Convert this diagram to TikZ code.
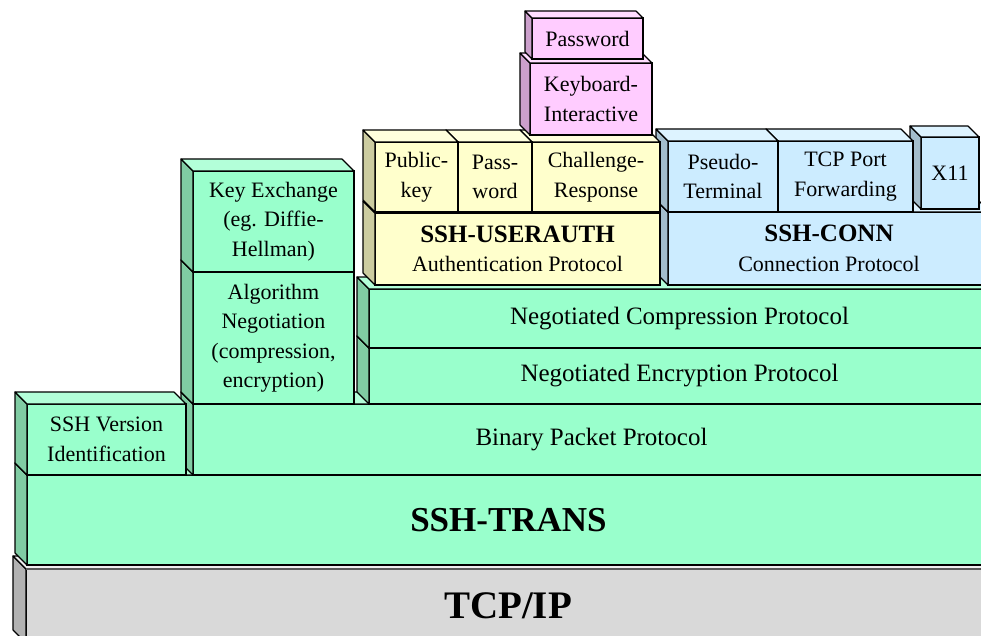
\documentclass[tikz,border=0pt]{standalone}
\usepackage{fontspec}
\setmainfont{Liberation Serif}
\usetikzlibrary{calc}

\definecolor{ipF}{HTML}{D9D9D9}
\definecolor{ipS}{HTML}{B2B2B2}
\definecolor{ipT}{HTML}{EEEEEE}
\definecolor{transF}{HTML}{99FFCC}
\definecolor{transS}{HTML}{80CCA3}
\definecolor{transT}{HTML}{B3FFD9}
\definecolor{authF}{HTML}{FFFFCC}
\definecolor{authS}{HTML}{CCCCA0}
\definecolor{authT}{HTML}{FFFFDD}
\definecolor{connF}{HTML}{CCECFF}
\definecolor{connS}{HTML}{A3BDCC}
\definecolor{connT}{HTML}{DDF3FF}
\definecolor{kbdF}{HTML}{FFCCFF}
\definecolor{kbdS}{HTML}{CCA0CC}
\definecolor{kbdT}{HTML}{FFDDFF}

\tikzset{
  front/.style={draw, line width=1.1pt, outer sep=0pt, inner sep=0pt,
    align=center, anchor=north west},
  face/.style={draw, line width=1.1pt, line join=round},
  boxtext/.style={font=\fontsize{22}{29.5}\selectfont},
  rowtext/.style={font=\fontsize{25}{30}\selectfont},
  bigtext/.style={font=\fontsize{35}{40}\selectfont\bfseries},
  hugetext/.style={font=\fontsize{39}{44}\selectfont\bfseries}
}

% [depth]{name}{x}{y}{width}{height}{colour}{text style}{text}
\newcommand{\layerbox}[9][12]{%
  \node[front, fill=#7F, minimum width=#5pt, minimum height=#6pt, #8] (#2) at (#3,#4) {#9};
  \draw[face, fill=#7S] (#2.north west) -- ++(-#1,-#1)
    -- ([shift={(-#1,-#1)}]#2.south west) -- (#2.south west) -- cycle;
  \draw[face, fill=#7T] (#2.north west) -- ++(-#1,-#1)
    -- ([shift={(-#1,-#1)}]#2.north east) -- (#2.north east) -- cycle;
}

\begin{document}
\begin{tikzpicture}[x=1pt, y=-1pt]
    \useasboundingbox (0,0) rectangle (981,636);
    \clip (0,0) rectangle (981,636);

    % transport layers
    \layerbox[13]{tcpip}{26}{569}{964}{74}{ip}{hugetext}{TCP/IP}
    \draw[line width=2.5pt, black!65] (tcpip.north west) -- (tcpip.north east);
    \layerbox{trans}{27}{475}{963}{90}{trans}{bigtext}{SSH-TRANS}
    \layerbox{binary}{193}{404}{797}{71}{trans}{rowtext}{Binary Packet Protocol}
    \layerbox{version}{27}{404}{159}{71}{trans}{boxtext}{SSH Version\\Identification}
    \layerbox{encrypt}{369}{348}{621}{56}{trans}{rowtext}{Negotiated Encryption Protocol}
    \layerbox{compress}{369}{289}{621}{59}{trans}{rowtext}{Negotiated Compression Protocol}
    \layerbox{algneg}{193}{272}{161}{132}{trans}{boxtext}{Algorithm\\Negotiation\\(compression,\\encryption)}
    \layerbox{keyex}{193}{171}{161}{101}{trans}{boxtext}{Key Exchange\\(eg. Diffie-\\Hellman)}

    % connection protocol
    \layerbox{conn}{668}{212}{322}{73}{conn}{boxtext}{{\fontsize{25}{30}\selectfont\bfseries SSH-CONN}\\Connection Protocol}
    \layerbox[11]{xeleven}{921}{137}{58}{72}{conn}{boxtext}{X11}
    \layerbox{tcpfwd}{778}{141}{135}{71}{conn}{boxtext}{TCP Port\\Forwarding}
    \layerbox{pseudo}{668}{141}{110}{71}{conn}{boxtext}{Pseudo-\\Terminal}

    % user authentication
    \layerbox{userauth}{375}{213}{285}{72}{auth}{boxtext}{{\fontsize{25}{30}\selectfont\bfseries SSH-USERAUTH}\\Authentication Protocol}
    \layerbox{chalresp}{532}{142}{128}{70}{auth}{boxtext}{Challenge-\\Response}
    \layerbox{passwd}{458}{142}{74}{70}{auth}{boxtext}{Pass-\\word}
    \layerbox{pubkey}{375}{142}{83}{70}{auth}{boxtext}{Public-\\key}
    \layerbox[10]{kbdint}{530}{63}{122}{72}{kbd}{boxtext}{Keyboard-\\Interactive}
    \layerbox[7]{kbdpass}{532}{18}{111}{41}{kbd}{boxtext}{Password}
\end{tikzpicture}
\end{document}
